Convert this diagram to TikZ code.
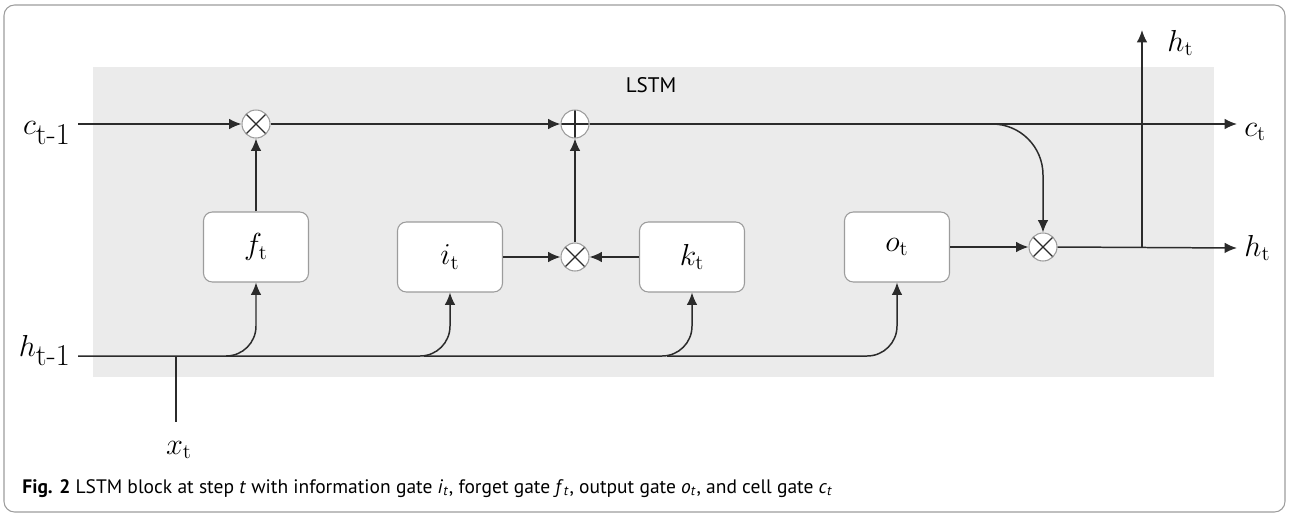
\documentclass[tikz,border=0pt]{standalone}
\usepackage{fontspec}
\newfontfamily\capfont{PT Sans}
\usepackage{tikz}
\usetikzlibrary{arrows.meta}
\definecolor{panel}{HTML}{EBEBEB}
\definecolor{wire}{HTML}{2B2B2B}
\definecolor{rim}{HTML}{9C9C9C}
\tikzset{
  arr/.style      = {-{Latex[length=7pt,width=6pt]},wire,line width=0.85pt},
  wireline/.style = {wire,line width=0.85pt},
  gatebox/.style  = {draw=rim,fill=white,rounded corners=5pt,line width=0.6pt,
                     minimum width=2.1cm,minimum height=1.4cm,font=\LARGE},
  opcirc/.style   = {circle,draw=rim,fill=white,line width=0.6pt,
                     minimum size=0.56cm,inner sep=0pt},
  timesop/.style  = {opcirc,path picture={\draw[wire,line width=0.7pt]
      (path picture bounding box.center) +(45:1cm) -- +(225:1cm)
      (path picture bounding box.center) +(135:1cm) -- +(-45:1cm);}},
  plusop/.style   = {opcirc,path picture={\draw[wire,line width=0.7pt]
      (path picture bounding box.center) +(0:1cm) -- +(180:1cm)
      (path picture bounding box.center) +(90:1cm) -- +(-90:1cm);}},
  tag/.style      = {font=\LARGE,inner sep=1pt,inner xsep=4pt}
}

\begin{document}
\begin{tikzpicture}[x=0.02cm,y=-0.02cm]
  \useasboundingbox (0,0) rectangle (1289,514);
  % --- frame and grey block
  \draw[rim,line width=0.6pt,rounded corners=6pt] (4,5) rectangle (1285,512);
  \fill[panel] (93,67) rectangle (1214,377);
  \node[font=\capfont\large] (title) at (651,85) {LSTM};
  % --- gates
  \node[gatebox] (f) at (256,247) {$f_{\mathrm{t}}$};
  \node[gatebox] (i) at (450,257) {$i_{\mathrm{t}}$};
  \node[gatebox] (k) at (692,257) {$k_{\mathrm{t}}$};
  \node[gatebox] (o) at (897,247) {$o_{\mathrm{t}}$};
  % --- point-wise operations
  \node[timesop] (fmul) at (256,124) {};
  \node[plusop]  (add)  at (575,124) {};
  \node[timesop] (imul) at (575,257) {};
  \node[timesop] (omul) at (1043,247) {};
  % --- inputs and outputs
  \node[tag,anchor=east]      (cin)  at (78,133)  {$c_{\textrm{t-1}}$};
  \node[tag,anchor=base east] (hin)  at (78,356)  {$h_{\textrm{t-1}}$};
  \node[tag]                  (xin)  at (179,450) {$x_{\mathrm{t}}$};
  \node[tag,anchor=west]      (cout) at (1237,132) {$c_{\mathrm{t}}$};
  \node[tag,anchor=west]      (hout) at (1237,248) {$h_{\mathrm{t}}$};
  \node[tag,anchor=west]      (htop) at (1160,43)  {$h_{\mathrm{t}}$};
  \coordinate (hb1)   at (226,356);
  \coordinate (hb2)   at (424,356);
  \coordinate (hb3)   at (667,356);
  \coordinate (xjoin) at (176,356);
  \coordinate (xfoot) at (176,422);
  \coordinate (hjoin) at (1142,247);
  \coordinate (htip)  at (1142,30);
  % --- cell state path
  \draw[arr] (cin.east |- fmul.west) -- (fmul.west);
  \draw[arr] (f.north) -- (fmul.south);
  \draw[arr] (fmul.east) -- (add.west);
  \draw[arr] (imul.north) -- (add.south);
  \draw[arr] (i.east) -- (imul.west);
  \draw[arr] (k.west) -- (imul.east);
  \draw[arr] (add.east) -- (add.east -| cout.west);
  \draw[arr,rounded corners=29pt] (add.east) -| (omul.north);
  % --- hidden state out
  \draw[arr] (o.east) -- (omul.west);
  \draw[arr] (omul.east) -- (hout.west);
  \draw[arr] (hjoin) -- (htip);
  % --- h_{t-1} feeding the gates
  \draw[arr,rounded corners=17pt] (hin.base east) -| (f.south);
  \draw[arr,rounded corners=17pt] (hb1) -| (i.south);
  \draw[arr,rounded corners=17pt] (hb2) -| (k.south);
  \draw[arr,rounded corners=17pt] (hb3) -| (o.south);
  \draw[wireline] (xjoin) -- (xfoot);
  % --- caption
  \node[anchor=base west,inner sep=0pt,font=\capfont\fontsize{11.1}{13}\selectfont]
       (caption) at (22,493)
       {\textbf{Fig. 2} LSTM block at step \textit{t} with information gate
        \textit{i}\textsubscript{\textit{t}}, forget gate
        \textit{f}\textsubscript{\textit{t}}, output gate
        \textit{o}\textsubscript{\textit{t}}, and cell gate
        \textit{c}\textsubscript{\textit{t}}};
\end{tikzpicture}
\end{document}
